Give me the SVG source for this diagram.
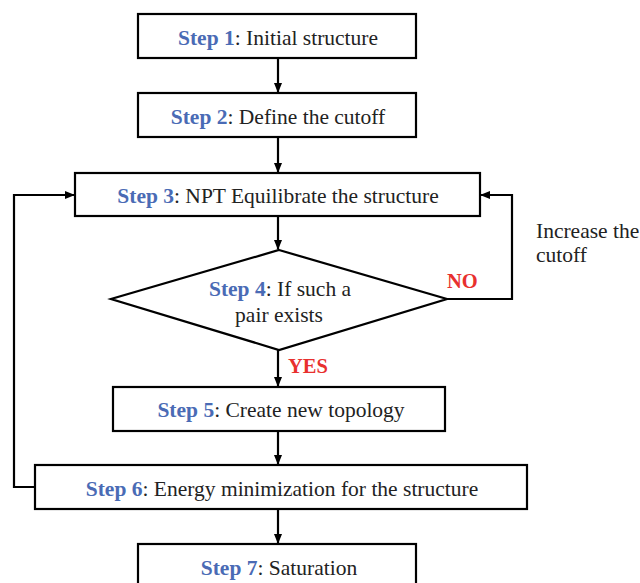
<svg xmlns="http://www.w3.org/2000/svg" width="640" height="583" viewBox="0 0 640 583">
<style>
.box{fill:#fff;stroke:#000;stroke-width:2.2}
.t{font-family:"Liberation Serif","Times New Roman",serif;font-size:21.5px;fill:#222;text-anchor:middle}
.s{fill:#4a6bb5;font-weight:bold}
.lab{font-family:"Liberation Serif","Times New Roman",serif;font-size:20.5px;font-weight:bold;fill:#e8302e}
.c{fill:none;stroke:#000;stroke-width:2.2}
</style>
<defs>
<marker id="ah" markerWidth="10" markerHeight="10" refX="9" refY="5" orient="auto" markerUnits="userSpaceOnUse">
<path d="M0,1 L10,5 L0,9 Z" fill="#000"/>
</marker>
</defs>
<rect width="640" height="583" fill="#fff"/>
<g id="connectors">
<line class="c" x1="278" y1="58" x2="278" y2="92" marker-end="url(#ah)"/>
<line class="c" x1="278" y1="137" x2="278" y2="172" marker-end="url(#ah)"/>
<line class="c" x1="278" y1="216" x2="278" y2="249" marker-end="url(#ah)"/>
<line class="c" x1="278" y1="350" x2="278" y2="386" marker-end="url(#ah)"/>
<line class="c" x1="278" y1="431" x2="278" y2="464" marker-end="url(#ah)"/>
<line class="c" x1="278" y1="509" x2="278" y2="543" marker-end="url(#ah)"/>
<polyline class="c" points="447,299 512,299 512,195 481,195" marker-end="url(#ah)"/>
<polyline class="c" points="35,487 14,487 14,195 74,195" marker-end="url(#ah)"/>
<text class="lab" x="447" y="288">NO</text>
<text class="lab" x="288" y="373">YES</text>
<text class="t" x="536" y="238" style="text-anchor:start">Increase the</text>
<text class="t" x="536" y="262" style="text-anchor:start">cutoff</text>
</g>
<g id="step1">
<rect class="box" x="138" y="14" width="278" height="44"/>
<text class="t" x="278" y="45"><tspan class="s">Step 1</tspan>: Initial structure</text>
</g>
<g id="step2">
<rect class="box" x="138" y="93" width="278" height="44"/>
<text class="t" x="278" y="124"><tspan class="s">Step 2</tspan>: Define the cutoff</text>
</g>
<g id="step3">
<rect class="box" x="75" y="173" width="405" height="43"/>
<text class="t" x="278" y="203"><tspan class="s">Step 3</tspan>: NPT Equilibrate the structure</text>
</g>
<g id="step4">
<polygon class="box" points="279,250 447,299 279,350 111,299"/>
<text class="t" x="280" y="296"><tspan class="s">Step 4</tspan>: If such a</text>
<text class="t" x="279" y="322">pair exists</text>
</g>
<g id="step5">
<rect class="box" x="113" y="387" width="332" height="44"/>
<text class="t" x="281" y="417"><tspan class="s">Step 5</tspan>: Create new topology</text>
</g>
<g id="step6">
<rect class="box" x="35" y="465" width="492" height="44"/>
<text class="t" x="282" y="496"><tspan class="s">Step 6</tspan>: Energy minimization for the structure</text>
</g>
<g id="step7">
<rect class="box" x="138" y="544" width="278" height="44"/>
<text class="t" x="279" y="575"><tspan class="s">Step 7</tspan>: Saturation</text>
</g>
</svg>
